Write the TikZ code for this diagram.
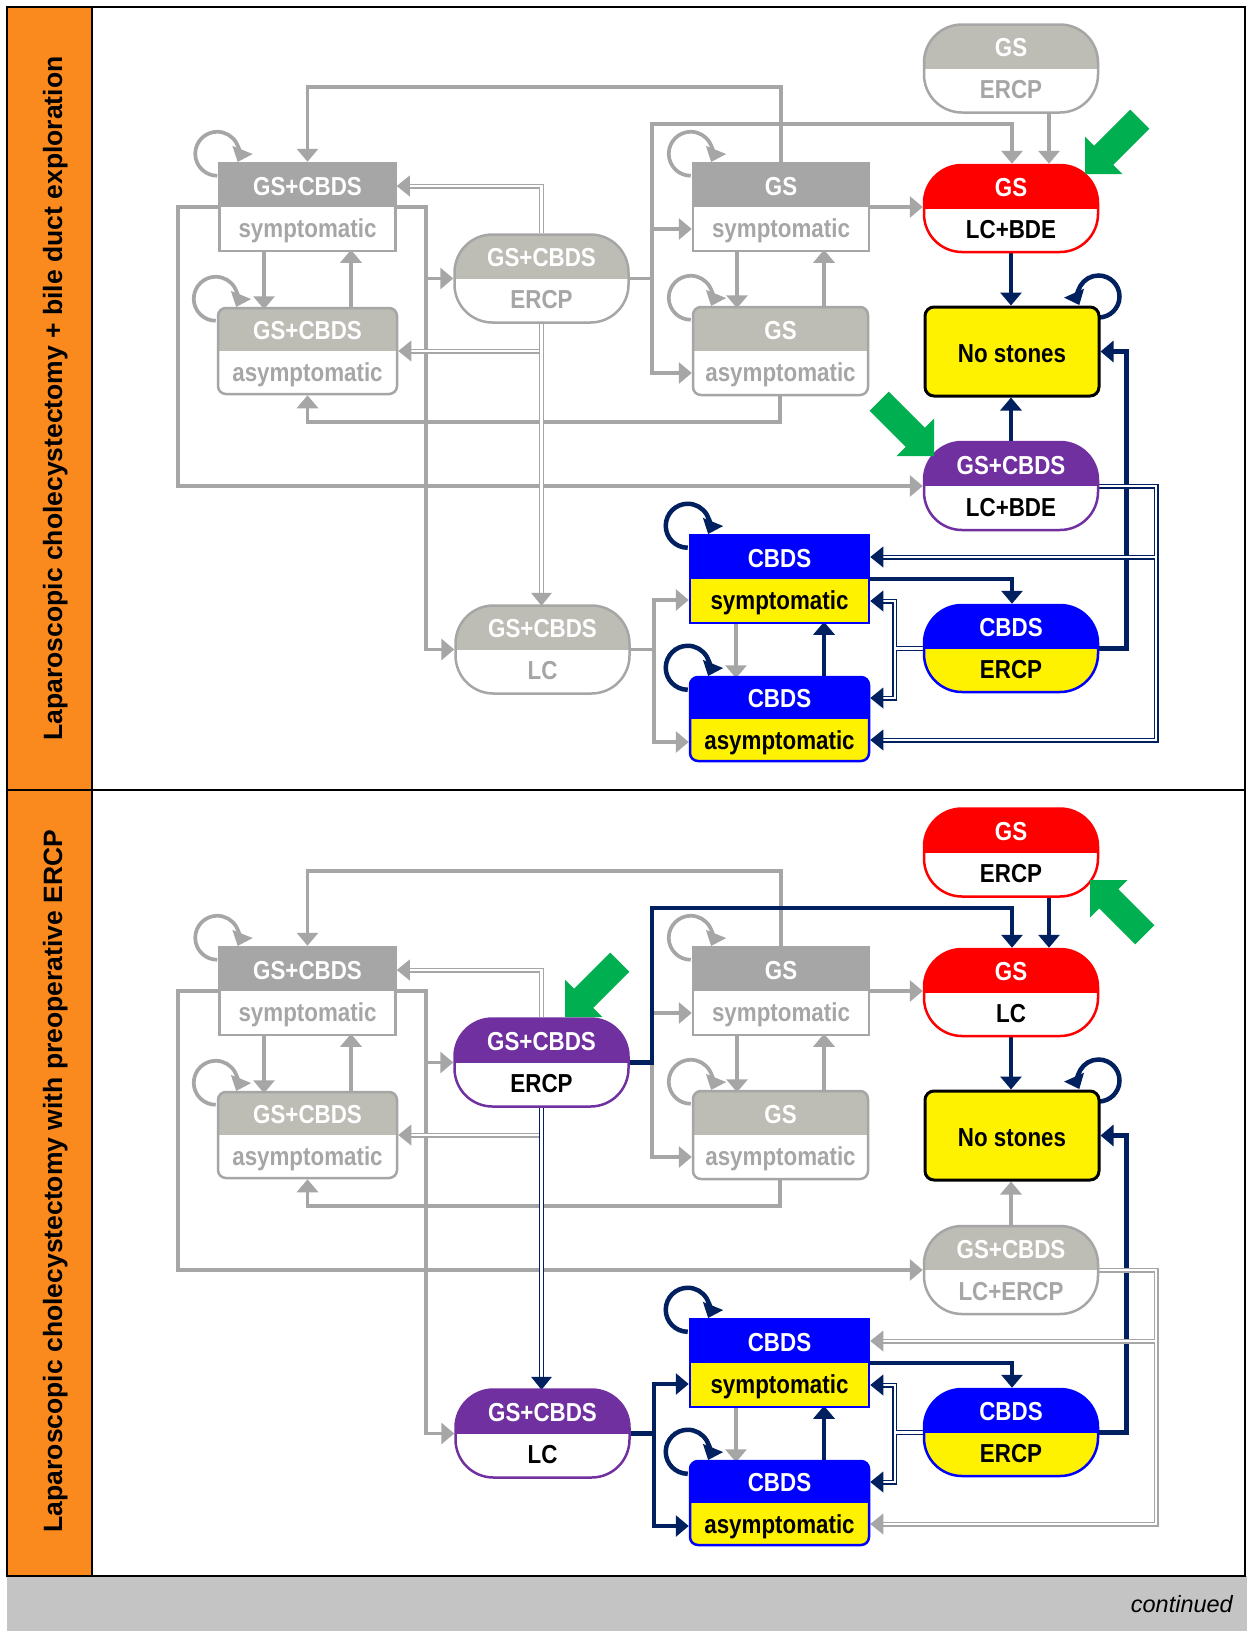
\documentclass[tikz,border=0pt]{standalone}
\usepackage{fontspec}
\setmainfont{Liberation Sans}
\newfontfamily\nodefont[FakeStretch=0.86]{Liberation Sans}
\usetikzlibrary{arrows.meta,calc}
\pgfdeclarelayer{back}
\pgfdeclarelayer{bg}
\pgfsetlayers{back,bg,main}
\definecolor{lgray}{RGB}{166,166,166}
\definecolor{hlight}{RGB}{189,188,181}
\definecolor{navy}{RGB}{0,32,96}
\definecolor{purp}{RGB}{112,48,160}
\definecolor{grn}{RGB}{0,176,80}
\definecolor{orng}{RGB}{250,138,30}
\definecolor{band}{RGB}{196,196,196}
\colorlet{Kg}{lgray}\colorlet{Kn}{navy}\colorlet{Kr}{navy}
\newcommand\nf{\nodefont\bfseries\fontsize{26}{30}\selectfont}
\newcommand\labf{\bfseries\fontsize{26.5}{30}\selectfont}
\tikzset{
  bx/.style={rectangle, minimum width=176pt, minimum height=88pt, inner sep=0pt, line width=2.5pt, fill=white},
  hf/.style={path picture={\fill[#1, sharp corners] (path picture bounding box.north west) rectangle (path picture bounding box.east);}},
  stad/.style={bx, rounded corners=38pt, minimum width=174pt},
  gst/.style={stad, draw=lgray, hf=hlight},
  purst/.style={stad, draw=purp, hf=purp},
  redst/.style={stad, draw=red, hf=red},
  cest/.style={stad, draw=blue, fill=yellow, hf=blue, minimum height=87pt},
  gsq/.style={bx, draw=lgray, hf=lgray},
  grr/.style={bx, draw=lgray, hf=hlight, rounded corners=8pt},
  csst/.style={bx, draw=blue, fill=yellow, hf=blue, minimum width=179pt},
  cast/.style={bx, draw=blue, fill=yellow, hf=blue, rounded corners=8pt, minimum width=179pt, minimum height=84pt},
  nsst/.style={bx, draw=black, fill=yellow, rounded corners=9pt, line width=3pt, minimum width=174pt, minimum height=89pt},
  Ug/.style={gst}, Un/.style={purst}, Rg/.style={gst}, Rr/.style={redst}, Pg/.style={gst}, Pn/.style={purst},
  hdt/.style={text=white, font=\nf, inner sep=0pt},
  lgt/.style={text=lgray, font=\nf, inner sep=0pt},
  lkt/.style={text=black, font=\nf, inner sep=0pt},
  Tg/.style={lgt}, Tn/.style={lkt}, Tr/.style={lkt},
  Lg/.style={draw=lgray, line width=3.7pt}, Ln/.style={draw=navy, line width=4.5pt}, Lr/.style={Ln},
  gloop/.style={draw=lgray, line width=3.7pt}, nloop/.style={draw=navy, line width=4.5pt},
  lab/.style={font=\labf, text=black, inner sep=0pt},
}
\newcommand\twolab[4]{%
  \node[hdt, anchor=base] at ($(#1.center)+(0,-12)$) {#2};
  \node[#3, anchor=base] at ($(#1.center)+(0,30)$) {#4};}
\newcommand\dpath[2]{\draw[line width=5pt,draw=#1] #2; \draw[line width=2.2pt,draw=white] #2;}
\newcommand\tipL[2]{\fill[#1] #2 -- ++(13,-10.5) -- ++(0,21) -- cycle;}
\newcommand\tipD[2]{\fill[#1] #2 -- ++(-10.5,-13) -- ++(21,0) -- cycle;}
\newcommand\lpTL[2]{\draw[#2,->] ($(#1.north west)+(-1,-8)$) ++(90:22) arc[start angle=90,end angle=382,radius=22];}
\newcommand\garrow[2]{\fill[grn, shift={#1}, rotate=#2] (0,0) -- (-26.5,26.5) -- (-26.5,13.5) -- (-77.5,13.5) -- (-77.5,-13.5) -- (-26.5,-13.5) -- (-26.5,-26.5) -- cycle;}
% #1 prefix, #2 y shift, #3 state of LC+BDE/LC+ERCP group, #4 state of ERCP/LC group, #5 state of GS ERCP, #6 GS lower text, #7 GS+CBDS lower text
\newcommand\panel[7]{%
\begin{scope}[shift={(0,#2)}]
\node[gsq] (#1SymA) at (307.5,207) {};
\node[grr, minimum width=179pt, minimum height=86pt] (#1AsymA) at (307.5,351) {};
\node[U#4] (#1ErA) at (541.5,278.5) {};
\node[U#4] (#1LCn) at (542.5,649.5) {};
\node[gsq] (#1SymB) at (781,207) {};
\node[grr, minimum width=175pt] (#1AsymB) at (780.5,351) {};
\node[R#5] (#1GSE) at (1011,68.5) {};
\node[redst, minimum height=87pt] (#1GSL) at (1011,208.5) {};
\node[nsst] (#1NS) at (1012,351.5) {};
\node[P#3] (#1PL) at (1011,486) {};
\node[csst] (#1CS) at (779.5,579) {};
\node[cest] (#1CE) at (1011,648.5) {};
\node[cast] (#1CA) at (779.5,719) {};
\twolab{#1SymA}{GS+CBDS}{lgt}{symptomatic}
\twolab{#1AsymA}{GS+CBDS}{lgt}{asymptomatic}
\twolab{#1ErA}{GS+CBDS}{T#4}{ERCP}
\twolab{#1LCn}{GS+CBDS}{T#4}{LC}
\twolab{#1SymB}{GS}{lgt}{symptomatic}
\twolab{#1AsymB}{GS}{lgt}{asymptomatic}
\twolab{#1GSE}{GS}{T#5}{ERCP}
\twolab{#1GSL}{GS}{lkt}{#6}
\twolab{#1PL}{GS+CBDS}{T#3}{#7}
\twolab{#1CS}{CBDS}{lkt}{symptomatic}
\twolab{#1CE}{CBDS}{lkt}{ERCP}
\twolab{#1CA}{CBDS}{lkt}{asymptomatic}
\node[lkt, anchor=base] at ($(#1NS.center)+(0,10.5)$) {No stones};
\begin{pgfonlayer}{bg}
\draw[Lg,->] (#1SymB.north) -- ++(0,-75) -| (#1SymA.north);
\draw[Lg,->] ($(#1SymA.south)+(-43.5,0)$) -- ++(0,57);
\draw[Lg,->] ($(#1AsymA.north)+(43.5,0)$) -- ++(0,-57);
\draw[Lg,->] (#1SymA.west) -- ++(-40,0) |- (#1PL.west);
\draw[Lg,->] (#1SymA.east) -- ++(29,0) |- (#1ErA.west);
\draw[Lg,->] (#1SymA.east) -- ++(29,0) |- (#1LCn.west);
\draw[Lg,->] (#1ErA.east) -- ++(22,0) |- ($(#1SymB.west)+(0,22)$);
\draw[Lg,->] (#1ErA.east) -- ++(22,0) |- ($(#1AsymB.west)+(0,22)$);
\draw[Lg,->] (#1SymB.east) -- (#1SymB.east -| #1GSL.west);
\draw[Lg,->] ($(#1SymB.south)+(-44,0)$) -- ++(0,56);
\draw[Lg,->] ($(#1AsymB.north)+(43.5,0)$) -- ++(0,-56);
\draw[Lg,->] ($(#1AsymB.south)+(-0.5,0)$) -- ++(0,26) -| (#1AsymA.south);
\draw[Lg,->] ($(#1CS.south)+(-43.5,0)$) -- ++(0,54);
\draw[L#4,->] (#1ErA.east) -- ++(22,0) |- ($(#1GSL.north)+(1,-40)$) -- ($(#1GSL.north)+(1,0)$);
\draw[L#5,->] ($(#1GSE.south)+(38,0)$) -- ($(#1GSL.north)+(38,0)$);
\draw[L#4,->] (#1LCn.east) -- ++(23,0) |- ($(#1CS.west)+(0,21)$);
\draw[L#4,->] (#1LCn.east) -- ++(23,0) |- ($(#1CA.west)+(0,23)$);
\draw[L#3,->] (#1PL.north) -- (#1PL.north |- #1NS.south);
\draw[Ln,->] (#1GSL.south) -- (#1GSL.south |- #1NS.north);
\draw[Ln,->] (#1CS.east) -| ($(#1CE.north)+(1,0)$);
\draw[Ln,->] (#1CE.east) -- ++(27,0) |- (#1NS.east);
\draw[Ln,->] ($(#1CA.north)+(44.5,0)$) -- ++(0,-54);
\dpath{lgray}{(#1ErA.north) |- ($(#1SymA.east)+(12,-21)$)}
\tipL{lgray}{($(#1SymA.east)+(0,-21)$)}
\dpath{lgray}{(#1ErA.south) |- ($(#1AsymA.east)+(12,0)$)}
\tipL{lgray}{(#1AsymA.east)}
\dpath{K#4}{(#1ErA.south) -- ($(#1ErA.south)+(0,270)$)}
\tipD{K#4}{($(#1ErA.south)+(0,282)$)}
\dpath{K#3}{(#1PL.east) -- ++(57,0) |- ($(#1CS.east)+(12,-22)$) (#1PL.east) -- ++(57,0) |- ($(#1CA.east)+(12,21)$)}
\tipL{K#3}{($(#1CS.east)+(0,-22)$)}
\tipL{K#3}{($(#1CA.east)+(0,21)$)}
\dpath{navy}{(#1CE.west) -- ++(-28,0) |- ($(#1CS.east)+(12,22)$) (#1CE.west) -- ++(-28,0) |- ($(#1CA.east)+(12,-21)$)}
\tipL{navy}{($(#1CS.east)+(0,22)$)}
\tipL{navy}{($(#1CA.east)+(0,-21)$)}
\lpTL{#1SymA}{gloop}
\lpTL{#1AsymA}{gloop}
\lpTL{#1SymB}{gloop}
\lpTL{#1AsymB}{gloop}
\lpTL{#1CS}{nloop}
\lpTL{#1CA}{nloop}
\draw[nloop,->] ($(#1NS.north east)+(-2,-9)$) ++(90:21) arc[start angle=90,end angle=-204,radius=21];
\end{pgfonlayer}
\end{scope}}
\begin{document}
\begin{tikzpicture}[x=1pt,y=-1pt,>={Triangle[length=13pt,width=21pt]}]
\useasboundingbox (0,0) rectangle (1253,1631);
\begin{pgfonlayer}{back}
\fill[white] (0,0) rectangle (1253,1631);
\fill[orng] (7,7) rectangle (92,1576);
\fill[band] (7,1576) rectangle (1247,1631);
\end{pgfonlayer}
\panel{t}{0}{n}{g}{g}{LC+BDE}{LC+BDE}
\panel{b}{784}{g}{n}{r}{LC}{LC+ERCP}
\garrow{(1085,174)}{225}
\garrow{(934,456)}{315}
\garrow{(565,1017)}{225}
\garrow{(1090,880)}{135}
\draw[line width=2pt] (7,7) rectangle (1245,1576);
\draw[line width=2pt] (92,7) -- (92,1576);
\draw[line width=2pt] (7,790) -- (1245,790);
\node[lab, rotate=90, anchor=base] (lab1) at (62,398.5) {Laparoscopic cholecystectomy + bile duct exploration};
\node[lab, rotate=90, anchor=base] (lab2) at (62,1181) {Laparoscopic cholecystectomy with preoperative ERCP};
\node[font=\itshape\fontsize{23.5}{28}\selectfont, inner sep=0pt, anchor=base east] (cont) at (1233,1612) {continued};
\end{tikzpicture}
\end{document}
